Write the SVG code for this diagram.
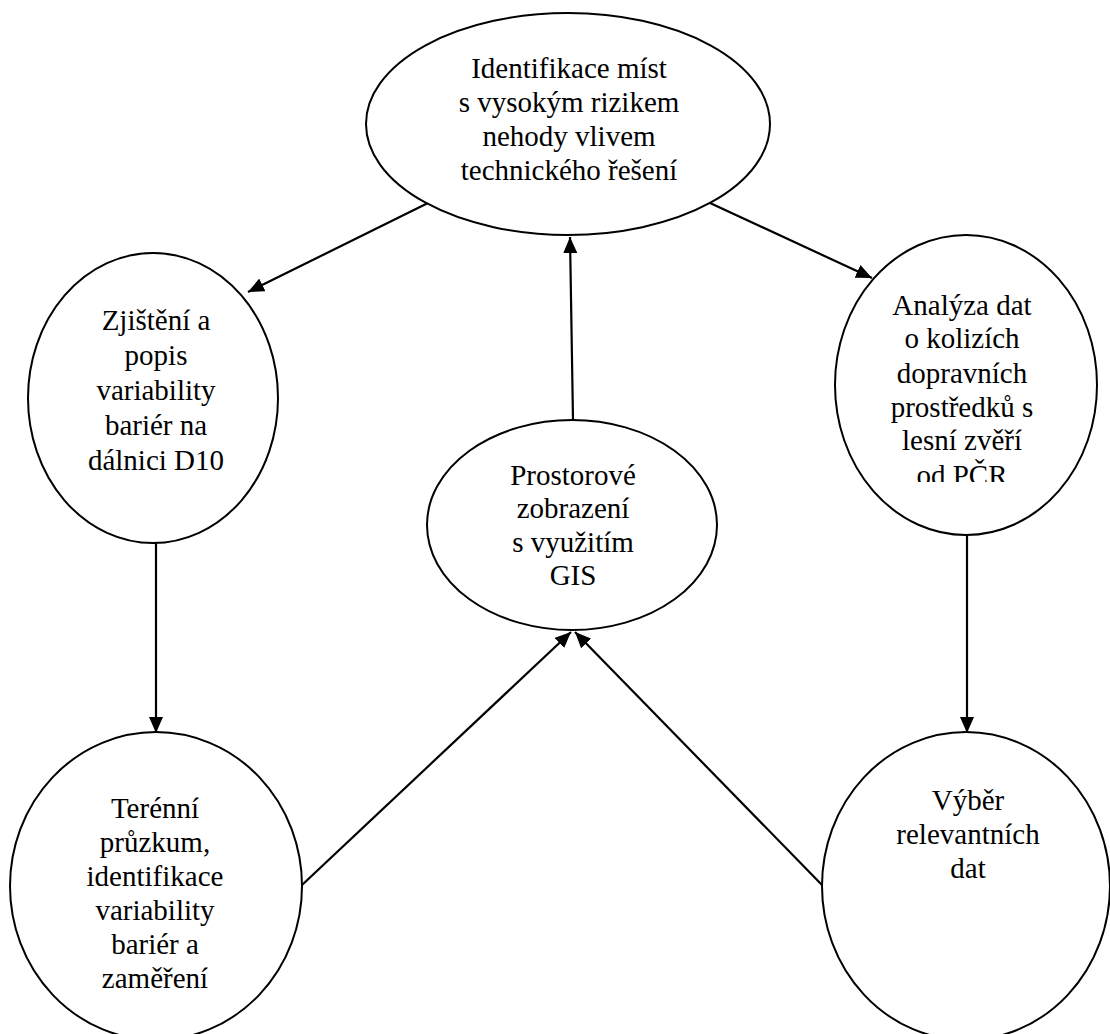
<svg xmlns="http://www.w3.org/2000/svg" width="1110" height="1034" viewBox="0 0 1110 1034">
<style>
.n{fill:#fff;stroke:#000;stroke-width:2}
.t{font-family:"Liberation Serif","Times New Roman",serif;font-size:29px;fill:#000;text-anchor:middle}
.c{stroke:#000;stroke-width:2.2;fill:none;marker-end:url(#ah)}
</style>
<defs>
<marker id="ah" markerWidth="16" markerHeight="14" refX="16" refY="7" orient="auto" markerUnits="userSpaceOnUse">
<path d="M0,0 L16,7 L0,14 Z" fill="#000"/>
</marker>
<clipPath id="clipR"><rect x="800" y="230" width="310" height="252"/></clipPath>
</defs>
<rect width="1110" height="1034" fill="#fff"/>
<g id="connectors">
<line class="c" x1="428" y1="203" x2="248" y2="292"/>
<line class="c" x1="710" y1="203" x2="872" y2="278"/>
<line class="c" x1="573" y1="420" x2="570" y2="237"/>
<line class="c" x1="156" y1="543" x2="156" y2="733"/>
<line class="c" x1="967" y1="535" x2="967" y2="733"/>
<line class="c" x1="302" y1="885" x2="571" y2="632"/>
<line class="c" x1="822" y1="885" x2="575" y2="632"/>
</g>
<g id="node-top">
<ellipse class="n" cx="568" cy="124" rx="202" ry="111"/>
<text class="t" x="569"><tspan x="569" y="78">Identifikace míst</tspan><tspan x="569" y="112">s vysokým rizikem</tspan><tspan x="569" y="146">nehody vlivem</tspan><tspan x="569" y="180">technického řešení</tspan></text>
</g>
<g id="node-left">
<ellipse class="n" cx="153" cy="398" rx="125" ry="145"/>
<text class="t"><tspan x="156" y="330">Zjištění a</tspan><tspan x="156" y="365">popis</tspan><tspan x="156" y="400">variability</tspan><tspan x="156" y="435">bariér na</tspan><tspan x="156" y="470">dálnici D10</tspan></text>
</g>
<g id="node-middle">
<ellipse class="n" cx="572" cy="525" rx="145" ry="105"/>
<text class="t"><tspan x="573" y="485">Prostorové</tspan><tspan x="573" y="518">zobrazení</tspan><tspan x="573" y="552">s využitím</tspan><tspan x="573" y="585">GIS</tspan></text>
</g>
<g id="node-right">
<ellipse class="n" cx="966" cy="385" rx="131" ry="150"/>
<text class="t" clip-path="url(#clipR)"><tspan x="962" y="315">Analýza dat</tspan><tspan x="962" y="348">o kolizích</tspan><tspan x="962" y="383">dopravních</tspan><tspan x="962" y="417">prostředků s</tspan><tspan x="962" y="450">lesní zvěří</tspan><tspan x="962" y="485">od PČR</tspan></text>
</g>
<g id="node-bottom-left">
<ellipse class="n" cx="156" cy="886" rx="146" ry="154"/>
<text class="t"><tspan x="155" y="818">Terénní</tspan><tspan x="155" y="852">průzkum,</tspan><tspan x="155" y="886">identifikace</tspan><tspan x="155" y="920">variability</tspan><tspan x="155" y="954">bariér a</tspan><tspan x="155" y="988">zaměření</tspan></text>
</g>
<g id="node-bottom-right">
<ellipse class="n" cx="966" cy="886" rx="144" ry="154"/>
<text class="t"><tspan x="968" y="810">Výběr</tspan><tspan x="968" y="844">relevantních</tspan><tspan x="968" y="878">dat</tspan></text>
</g>
</svg>
